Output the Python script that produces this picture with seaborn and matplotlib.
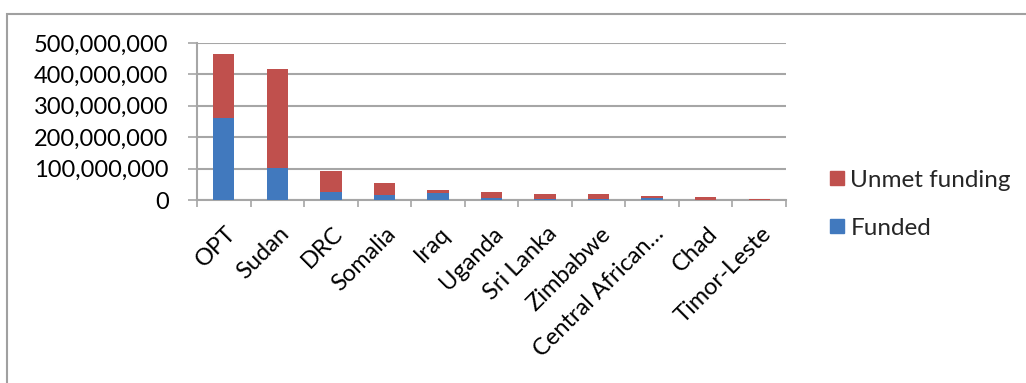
import numpy as np
import pandas as pd
import matplotlib
matplotlib.use("Agg")
import matplotlib.pyplot as plt
from matplotlib.patches import Rectangle
from matplotlib.lines import Line2D
from matplotlib.ticker import FuncFormatter, FixedLocator
from matplotlib.transforms import ScaledTranslation
import seaborn as sns

# Humanitarian appeal funding by country (US$)
countries = ["OPT", "Sudan", "DRC", "Somalia", "Iraq", "Uganda", "Sri Lanka",
             "Zimbabwe", "Central African\u2026", "Chad", "Timor-Leste"]
funded = [261e6, 103e6, 25e6, 16e6, 23e6, 6e6, 3e6, 2e6, 6e6, 1e6, 1e6]
unmet = [204e6, 315e6, 68e6, 37e6, 9e6, 20e6, 16e6, 17e6, 8e6, 9e6, 1e6]
y_ticks = [0, 100e6, 200e6, 300e6, 400e6, 500e6]

RED = "#C0504D"
BLUE = "#4179BE"
GRID = "#A6A6A6"
FS = 17

sns.set_theme(style="white")
plt.rcParams["font.family"] = ["Lato", "DejaVu Sans"]

df = pd.DataFrame({"country": countries, "funded": funded, "unmet": unmet})
df["total"] = df["funded"] + df["unmet"]

fig = plt.figure(figsize=(10.26, 3.83), dpi=100)
ax = fig.add_axes([197 / 1026, 1 - 200 / 383, (786 - 197) / 1026, (200 - 43) / 383])

# stacked bars: full height in red, funded part in blue on top of it
sns.barplot(data=df, x="country", y="total", color=RED, width=0.4,
            saturation=1, linewidth=0, ax=ax, zorder=3)
sns.barplot(data=df, x="country", y="funded", color=BLUE, width=0.4,
            saturation=1, linewidth=0, ax=ax, zorder=4)

ax.set_xlim(-0.5, len(countries) - 0.5)
ax.set_ylim(0, 500e6)
ax.set_xlabel("")
ax.set_ylabel("")

ax.yaxis.set_major_locator(FixedLocator(y_ticks))
ax.yaxis.set_major_formatter(FuncFormatter(lambda v, p: f"{int(v):,}"))
ax.grid(axis="y", color=GRID, linewidth=1.5, zorder=0)
ax.set_axisbelow(True)

for s in ["top", "right"]:
    ax.spines[s].set_visible(False)
for s in ["left", "bottom"]:
    ax.spines[s].set_color(GRID)
    ax.spines[s].set_linewidth(1.5)

ax.tick_params(axis="y", which="major", left=True, length=6.5, width=1.2,
               color=GRID, labelsize=FS, pad=14, labelcolor="black")
# category boundary ticks on the x axis
ax.set_xticks(np.arange(-0.5, len(countries)), minor=True)
ax.tick_params(axis="x", which="minor", bottom=True, length=5, width=1.2,
               color=GRID)
ax.tick_params(axis="x", which="major", bottom=False, length=0, pad=22,
               labelsize=FS, labelcolor="black")
shift = ScaledTranslation(6 / 72, 0, fig.dpi_scale_trans)
for lbl in ax.get_xticklabels():
    lbl.set_rotation(45)
    lbl.set_ha("right")
    lbl.set_va("center")
    lbl.set_rotation_mode("anchor")
    lbl.set_transform(lbl.get_transform() + shift)

handles = [Line2D([], [], marker="s", linestyle="", markersize=10,
                  markerfacecolor=RED, markeredgecolor=RED),
           Line2D([], [], marker="s", linestyle="", markersize=10,
                  markerfacecolor=BLUE, markeredgecolor=BLUE)]
fig.legend(handles, ["Unmet funding", "Funded"], loc="upper left",
           bbox_to_anchor=(803 / 1026, 1 - 148 / 383), frameon=False,
           fontsize=FS + 0.5, handletextpad=0.05, labelspacing=1.1,
           handlelength=1.0)

# chart frame
fig.patches.append(Rectangle((7 / 1026, -0.1), 1.2, 1 - 14 / 383 + 0.1,
                             transform=fig.transFigure, fill=False,
                             edgecolor="#A0A0A0", linewidth=1.5))

fig.savefig("out.png", dpi=100, facecolor="white")
